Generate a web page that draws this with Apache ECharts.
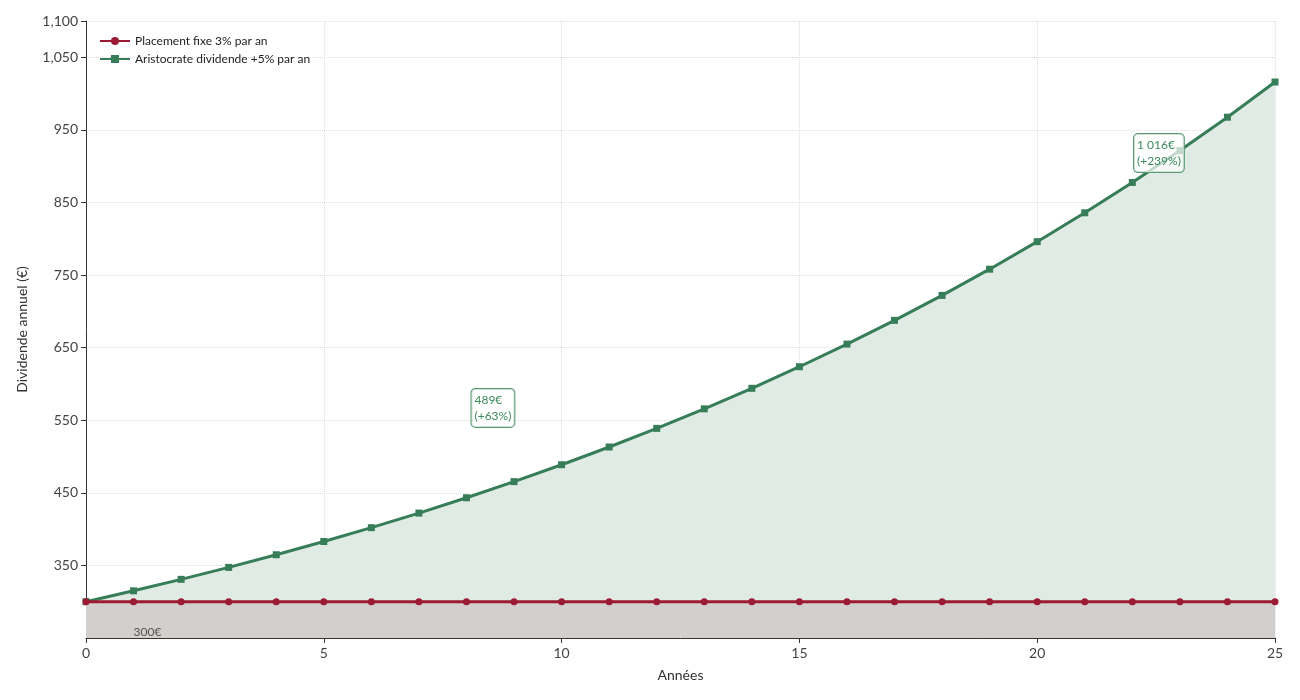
<!DOCTYPE html><html><head><meta charset="utf-8"><script src="https://cdn.jsdelivr.net/npm/echarts@6/dist/echarts.min.js"></script>
<style>body{margin:0}#c{width:1300px;height:700px}</style></head><body><div id="c"></div><script>
const years=[0,1,2,3,4,5,6,7,8,9,10,11,12,13,14,15,16,17,18,19,20,21,22,23,24,25];
const fixe=[300,300,300,300,300,300,300,300,300,300,300,300,300,300,300,300,300,300,300,300,300,300,300,300,300,300];
const aristo=[300,315,330.8,347.3,364.7,382.9,402,422.1,443.2,465.4,488.7,513.1,538.8,565.7,594,623.7,654.9,687.6,722,758.1,796,835.8,877.6,921.5,967.5,1015.9];
const F='Lato, sans-serif';
const box=(txt)=>({show:true,position:'right',formatter:txt,color:'#3a8a5c',fontFamily:F,fontSize:12,lineHeight:16,align:'left',backgroundColor:'rgba(255,255,255,0.7)',borderColor:'#5a9a74',borderWidth:1,borderRadius:4,padding:[3,3,3,3]});
const chart=echarts.init(document.getElementById('c'));
chart.setOption({
animation:false,
grid:{left:86,right:25,top:21,bottom:62},
legend:{left:94,top:30,orient:'vertical',itemGap:6,itemWidth:30,itemHeight:10,textStyle:{fontFamily:F,fontSize:12,color:'#222'},data:['Placement fixe 3% par an','Aristocrate dividende +5% par an']},
xAxis:{type:'value',min:0,max:25,interval:5,name:'Années',nameLocation:'middle',nameGap:30,nameTextStyle:{fontFamily:F,fontSize:14,color:'#333'},axisLine:{lineStyle:{color:'#333'}},axisTick:{show:true,lineStyle:{color:'#333'}},axisLabel:{fontFamily:F,fontSize:14,color:'#444'},splitLine:{lineStyle:{type:'dotted',color:'#ddd'}}},
yAxis:{type:'value',min:250,max:1100,interval:100,name:'Dividende annuel (€)',nameLocation:'middle',nameGap:57,nameTextStyle:{fontFamily:F,fontSize:14,color:'#333'},axisLine:{show:true,lineStyle:{color:'#333'}},axisTick:{show:true,lineStyle:{color:'#333'}},axisLabel:{fontFamily:F,fontSize:14,color:'#444',showMinLabel:false},splitLine:{lineStyle:{type:'dotted',color:'#ddd'}}},
series:[
{name:'Aristocrate dividende +5% par an',type:'line',z:2,data:years.map((x,i)=>[x,aristo[i]]),color:'#367d58',symbol:'rect',symbolSize:7,lineStyle:{width:3},areaStyle:{color:'#e0ebe5',opacity:1,origin:'start'},
 markPoint:{symbol:'circle',symbolSize:0,data:[{coord:[8,567],label:box('489€\n(+63%)')},{coord:[21.93,918],label:box('1 016€\n(+239%)')}]}},
{name:'Placement fixe 3% par an',type:'line',z:3,data:years.map((x,i)=>[x,fixe[i]]),color:'#9b1b35',symbol:'circle',symbolSize:7,lineStyle:{width:3},areaStyle:{color:'#d3cfcd',opacity:1,origin:'start'},
 markPoint:{symbol:'circle',symbolSize:0,data:[{coord:[1,258],label:{show:true,position:'right',distance:0,formatter:'300€',color:'#555',fontFamily:F,fontSize:12}}]}}
]});
</script></body></html>
